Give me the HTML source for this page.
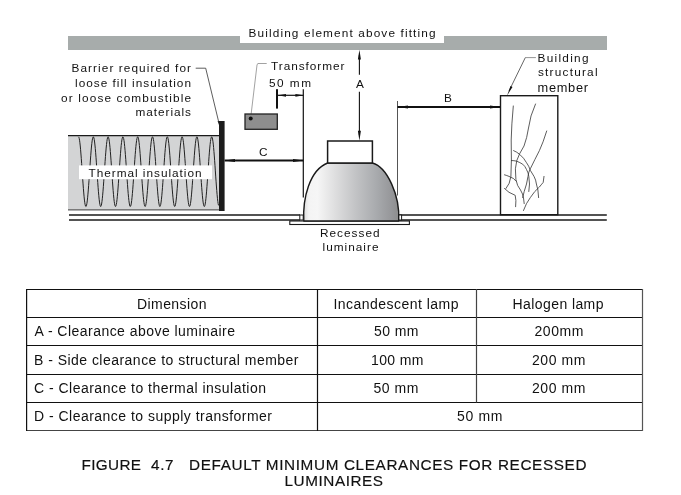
<!DOCTYPE html>
<html><head><meta charset="utf-8"><style>
html,body{margin:0;padding:0;background:#fff;width:681px;height:495px;overflow:hidden}
svg{display:block;will-change:transform}
text{font-family:"Liberation Sans",sans-serif}
</style></head><body>
<svg width="681" height="495" viewBox="0 0 681 495" font-family="Liberation Sans, sans-serif">
<defs>
<linearGradient id="dome" x1="303" x2="399" y1="0" y2="0" gradientUnits="userSpaceOnUse">
<stop offset="0" stop-color="#d9d9d9"/>
<stop offset="0.06" stop-color="#f4f4f4"/>
<stop offset="0.15" stop-color="#f6f6f6"/>
<stop offset="0.35" stop-color="#dcdcdd"/>
<stop offset="0.55" stop-color="#c2c3c5"/>
<stop offset="0.75" stop-color="#aaacaf"/>
<stop offset="0.92" stop-color="#96979a"/>
<stop offset="1" stop-color="#8c8c8c"/>
</linearGradient>
</defs>
<rect width="681" height="495" fill="#fff"/>
<!-- top bar -->
<rect x="68" y="36" width="539" height="14" fill="#a7acab"/>
<rect x="240" y="36" width="204" height="7" fill="#fff"/>
<!-- insulation -->
<rect x="68" y="135.5" width="151" height="75" fill="#d3d4d5"/>
<line x1="68" y1="135.6" x2="219" y2="135.6" stroke="#1a1a1a" stroke-width="1.3"/>
<line x1="68" y1="209.8" x2="219" y2="209.8" stroke="#7a7a7a" stroke-width="1.4"/>
<polyline points="78.50,136.80 78.85,137.18 79.20,138.33 79.55,140.21 79.90,142.78 80.25,145.98 80.60,149.76 80.95,154.01 81.30,158.66 81.65,163.59 82.00,168.69 82.35,173.87 82.70,178.99 83.05,183.95 83.40,188.65 83.75,192.96 84.10,196.81 84.45,200.10 84.80,202.77 85.15,204.75 85.50,206.00 85.85,206.49 86.20,206.22 86.55,205.18 86.90,203.41 87.25,200.93 87.60,197.81 87.95,194.11 88.30,189.92 88.65,185.33 89.00,180.43 89.35,175.34 89.70,170.17 90.05,165.03 90.40,160.04 90.75,155.30 91.10,150.93 91.45,147.01 91.80,143.63 92.15,140.87 92.50,138.79 92.85,137.43 93.20,136.83 93.55,137.00 93.90,137.92 94.25,139.60 94.60,141.97 94.95,145.01 95.30,148.63 95.65,152.75 96.00,157.30 96.35,162.15 96.70,167.22 97.05,172.39 97.40,177.54 97.75,182.56 98.10,187.34 98.45,191.77 98.80,195.76 99.15,199.22 99.50,202.07 99.85,204.26 100.20,205.72 100.55,206.43 100.90,206.37 101.25,205.55 101.60,203.99 101.95,201.71 102.30,198.76 102.65,195.22 103.00,191.17 103.35,186.68 103.70,181.85 104.05,176.81 104.40,171.65 104.75,166.49 105.10,161.45 105.45,156.62 105.80,152.13 106.15,148.08 106.50,144.54 106.85,141.59 107.20,139.31 107.55,137.75 107.90,136.93 108.25,136.87 108.60,137.58 108.95,139.04 109.30,141.23 109.65,144.08 110.00,147.54 110.35,151.53 110.70,155.96 111.05,160.74 111.40,165.76 111.75,170.91 112.10,176.08 112.45,181.15 112.80,186.00 113.15,190.55 113.50,194.67 113.85,198.29 114.20,201.33 114.55,203.70 114.90,205.38 115.25,206.30 115.60,206.47 115.95,205.87 116.30,204.51 116.65,202.43 117.00,199.67 117.35,196.29 117.70,192.37 118.05,188.00 118.40,183.26 118.75,178.27 119.10,173.13 119.45,167.96 119.80,162.87 120.15,157.97 120.50,153.38 120.85,149.19 121.20,145.49 121.55,142.37 121.90,139.89 122.25,138.12 122.60,137.08 122.95,136.81 123.30,137.30 123.65,138.55 124.00,140.53 124.35,143.20 124.70,146.49 125.05,150.34 125.40,154.65 125.75,159.35 126.10,164.31 126.45,169.43 126.80,174.61 127.15,179.71 127.50,184.64 127.85,189.29 128.20,193.54 128.55,197.32 128.90,200.52 129.25,203.09 129.60,204.97 129.95,206.12 130.30,206.50 130.65,206.12 131.00,204.97 131.35,203.09 131.70,200.52 132.05,197.32 132.40,193.54 132.75,189.29 133.10,184.64 133.45,179.71 133.80,174.61 134.15,169.43 134.50,164.31 134.85,159.35 135.20,154.65 135.55,150.34 135.90,146.49 136.25,143.20 136.60,140.53 136.95,138.55 137.30,137.30 137.65,136.81 138.00,137.08 138.35,138.12 138.70,139.89 139.05,142.37 139.40,145.49 139.75,149.19 140.10,153.38 140.45,157.97 140.80,162.87 141.15,167.96 141.50,173.13 141.85,178.27 142.20,183.26 142.55,188.00 142.90,192.37 143.25,196.29 143.60,199.67 143.95,202.43 144.30,204.51 144.65,205.87 145.00,206.47 145.35,206.30 145.70,205.38 146.05,203.70 146.40,201.33 146.75,198.29 147.10,194.67 147.45,190.55 147.80,186.00 148.15,181.15 148.50,176.08 148.85,170.91 149.20,165.76 149.55,160.74 149.90,155.96 150.25,151.53 150.60,147.54 150.95,144.08 151.30,141.23 151.65,139.04 152.00,137.58 152.35,136.87 152.70,136.93 153.05,137.75 153.40,139.31 153.75,141.59 154.10,144.54 154.45,148.08 154.80,152.13 155.15,156.62 155.50,161.45 155.85,166.49 156.20,171.65 156.55,176.81 156.90,181.85 157.25,186.68 157.60,191.17 157.95,195.22 158.30,198.76 158.65,201.71 159.00,203.99 159.35,205.55 159.70,206.37 160.05,206.43 160.40,205.72 160.75,204.26 161.10,202.07 161.45,199.22 161.80,195.76 162.15,191.77 162.50,187.34 162.85,182.56 163.20,177.54 163.55,172.39 163.90,167.22 164.25,162.15 164.60,157.30 164.95,152.75 165.30,148.63 165.65,145.01 166.00,141.97 166.35,139.60 166.70,137.92 167.05,137.00 167.40,136.83 167.75,137.43 168.10,138.79 168.45,140.87 168.80,143.63 169.15,147.01 169.50,150.93 169.85,155.30 170.20,160.04 170.55,165.03 170.90,170.17 171.25,175.34 171.60,180.43 171.95,185.33 172.30,189.92 172.65,194.11 173.00,197.81 173.35,200.93 173.70,203.41 174.05,205.18 174.40,206.22 174.75,206.49 175.10,206.00 175.45,204.75 175.80,202.77 176.15,200.10 176.50,196.81 176.85,192.96 177.20,188.65 177.55,183.95 177.90,178.99 178.25,173.87 178.60,168.69 178.95,163.59 179.30,158.66 179.65,154.01 180.00,149.76 180.35,145.98 180.70,142.78 181.05,140.21 181.40,138.33 181.75,137.18 182.10,136.80 182.45,137.18 182.80,138.33 183.15,140.21 183.50,142.78 183.85,145.98 184.20,149.76 184.55,154.01 184.90,158.66 185.25,163.59 185.60,168.69 185.95,173.87 186.30,178.99 186.65,183.95 187.00,188.65 187.35,192.96 187.70,196.81 188.05,200.10 188.40,202.77 188.75,204.75 189.10,206.00 189.45,206.49 189.80,206.22 190.15,205.18 190.50,203.41 190.85,200.93 191.20,197.81 191.55,194.11 191.90,189.92 192.25,185.33 192.60,180.43 192.95,175.34 193.30,170.17 193.65,165.03 194.00,160.04 194.35,155.30 194.70,150.93 195.05,147.01 195.40,143.63 195.75,140.87 196.10,138.79 196.45,137.43 196.80,136.83 197.15,137.00 197.50,137.92 197.85,139.60 198.20,141.97 198.55,145.01 198.90,148.63 199.25,152.75 199.60,157.30 199.95,162.15 200.30,167.22 200.65,172.39 201.00,177.54 201.35,182.56 201.70,187.34 202.05,191.77 202.40,195.76 202.75,199.22 203.10,202.07 203.45,204.26 203.80,205.72 204.15,206.43 204.50,206.37 204.85,205.55 205.20,203.99 205.55,201.71 205.90,198.76 206.25,195.22 206.60,191.17 206.95,186.68 207.30,181.85 207.65,176.81 208.00,171.65 208.35,166.49 208.70,161.45 209.05,156.62 209.40,152.13 209.75,148.08 210.10,144.54 210.45,141.59 210.80,139.31 211.15,137.75 211.50,136.93 211.85,136.87 212.20,137.58 212.55,139.04 212.90,141.23 213.25,144.08 213.60,147.54 213.95,151.53 214.30,155.96 214.65,160.74 215.00,165.76 215.35,170.91 215.70,176.08 216.05,181.15 216.40,186.00 216.75,190.55 217.10,194.67 217.45,198.29 217.80,201.33 218.15,203.70 218.50,205.38" fill="none" stroke="#222" stroke-width="1.0"/>
<rect x="79" y="165.4" width="133" height="13.8" fill="#fff"/>
<!-- barrier -->
<path d="M217.6 121 L224.6 121 L224.6 211 L219 211 L219 125 Z" fill="#1c1c1c"/>
<polyline points="195.7,68.2 205.7,68.2 218.6,121.5" fill="none" stroke="#333" stroke-width="0.8"/>
<!-- ceiling -->
<g stroke="#1a1a1a" stroke-width="1.7" fill="none">
<line x1="69" y1="215" x2="300" y2="215"/>
<line x1="69" y1="220" x2="300" y2="220"/>
<line x1="399" y1="215" x2="606.8" y2="215"/>
<line x1="399" y1="220" x2="606.8" y2="220"/>
</g>
<rect x="299.8" y="215" width="3.4" height="5" fill="#fff" stroke="#1a1a1a" stroke-width="1"/>
<rect x="398.6" y="215" width="3.0" height="5" fill="#fff" stroke="#1a1a1a" stroke-width="1"/>
<!-- transformer -->
<polyline points="266.7,63.5 257.8,63.5 257,65 250.6,118.5" fill="none" stroke="#8a8a8a" stroke-width="0.8"/>
<rect x="245" y="114" width="32.3" height="15.3" fill="#8e8e8e" stroke="#222" stroke-width="1.3"/>
<circle cx="250.7" cy="118.5" r="2" fill="#111"/>
<!-- 50mm dim -->
<rect x="276" y="89.2" width="2" height="19.4" fill="#111"/>
<line x1="278" y1="95.3" x2="303.4" y2="95.3" stroke="#111" stroke-width="1.2"/>
<path d="M278 95.3 L286 93.9 L286 96.7 Z M303.4 95.3 L295.4 93.9 L295.4 96.7 Z" fill="#111"/>
<line x1="303.3" y1="89.2" x2="303.3" y2="197.5" stroke="#111" stroke-width="1.2"/>
<!-- A -->
<line x1="359.4" y1="55" x2="359.4" y2="74.7" stroke="#111" stroke-width="1.1"/>
<line x1="359.4" y1="91.7" x2="359.4" y2="135" stroke="#111" stroke-width="1.1"/>
<path d="M359.4 49.8 L360.9 59.5 L357.9 59.5 Z M359.4 140.7 L360.9 130.7 L357.9 130.7 Z" fill="#111"/>
<!-- C -->
<line x1="224.6" y1="160.6" x2="303.3" y2="160.6" stroke="#111" stroke-width="2"/>
<path d="M224.6 160.6 L235 159.1 L235 162.1 Z M303.3 160.6 L293 159.1 L293 162.1 Z" fill="#111"/>
<!-- B -->
<line x1="397.5" y1="101" x2="397.5" y2="195.5" stroke="#555" stroke-width="1"/>
<line x1="397.5" y1="107" x2="500.5" y2="107" stroke="#111" stroke-width="1.9"/>
<path d="M397.5 107 L408 105.5 L408 108.5 Z M500.5 107 L490 105.5 L490 108.5 Z" fill="#111"/>
<!-- structural member -->
<rect x="500.5" y="95.7" width="57.3" height="119" fill="#fff" stroke="#1a1a1a" stroke-width="1.4"/>
<g fill="none" stroke="#333" stroke-width="0.8" stroke-linecap="round">
<path d="M513.3 106 Q511.5 125 511.2 140 L511.4 160 L510.9 176.4 Q510 184 506 188.5"/>
<path d="M535.5 104 Q530 116 528.5 128 Q527 138 524 146 L519.7 153.6 Q516 160 515.4 168.8 L515.9 179.4 Q517 186 520.5 190 Q523 194 523.5 198 L524.2 203.6"/>
<path d="M513.6 150.6 Q517 152 519.7 154.4 Q524 158 526.5 162.7 Q529 166 530.3 170.3 L534 176.4 Q536 180 536.4 184 L537.9 190 L538.6 197.6"/>
<path d="M546.7 131 Q543 143 539.4 150.6 L534.8 159.7 L530.3 168.8 Q528.5 172 528 176.4 L526.5 184 L524.2 191.5 L522.7 197.6"/>
<path d="M511.4 160.5 Q514 160.5 516.7 161.2 Q520 162.5 522.7 164.2 Q525 166 526.5 169.5 Q528.5 173 528.8 176.4 L529.5 184 L528.8 191.5"/>
<path d="M544 176.4 L543.2 182.4 Q541 185 539.4 187 L534.8 191.5 L530.3 197.6 L526.5 203.6 L523.5 210.5"/>
<path d="M504.5 174.8 Q507 175.5 509 176.4 L513.6 178.6 L515.9 181"/>
<path d="M504.5 188.5 L509 192.3 L515.2 195.3 L515.9 200.6 L515.6 206.7"/>
</g>
<!-- luminaire -->
<rect x="289.8" y="221" width="119.6" height="3.5" fill="#fff" stroke="#1a1a1a" stroke-width="1.1"/>
<path d="M327.6 163 C309.4 170.1 302.6 198.6 303.8 221 L398.7 221 C400.2 195.4 387 166.9 372.4 163 Z" fill="url(#dome)" stroke="#1a1a1a" stroke-width="1.4" stroke-linejoin="round"/>
<rect x="327.6" y="141" width="44.8" height="22" fill="#fff" stroke="#1a1a1a" stroke-width="1.5"/>
<!-- top leader -->
<polyline points="535.9,57.6 525.3,57.6" fill="none" stroke="#888" stroke-width="0.9"/>
<line x1="525.3" y1="57.6" x2="509" y2="91" stroke="#333" stroke-width="0.75"/>
<path d="M507.1 95.5 L512.5 87 L510.5 86 Z" fill="#111"/>
<!-- table -->
<g stroke="#111" stroke-width="1.2" fill="none">
<line x1="26" y1="289.5" x2="643" y2="289.5"/>
<line x1="26" y1="317.5" x2="643" y2="317.5"/>
<line x1="26" y1="345.5" x2="643" y2="345.5"/>
<line x1="26" y1="374.5" x2="643" y2="374.5"/>
<line x1="26" y1="402.5" x2="643" y2="402.5"/>
<line x1="26" y1="430.5" x2="643" y2="430.5" stroke="#444"/>
<line x1="26.6" y1="289" x2="26.6" y2="431"/>
<line x1="317.5" y1="289" x2="317.5" y2="431"/>
<line x1="476.5" y1="289" x2="476.5" y2="402.5" stroke="#444"/>
<line x1="642.5" y1="289" x2="642.5" y2="431" stroke="#555"/>
</g>
<text x="248.5" y="36.5" font-size="11.8" fill="#111" textLength="187.0" lengthAdjust="spacing">Building element above fitting</text><text x="71.5" y="71.8" font-size="11.8" fill="#111" textLength="119.5" lengthAdjust="spacing">Barrier required for</text><text x="75.0" y="86.5" font-size="11.8" fill="#111" textLength="116.0" lengthAdjust="spacing">loose fill insulation</text><text x="61.0" y="101.6" font-size="11.8" fill="#111" textLength="130.0" lengthAdjust="spacing">or loose combustible</text><text x="135.5" y="116.0" font-size="11.8" fill="#111" textLength="55.5" lengthAdjust="spacing">materials</text><text x="271.0" y="69.6" font-size="11.8" fill="#111" textLength="73.5" lengthAdjust="spacing">Transformer</text><text x="269.0" y="86.6" font-size="11.8" fill="#111" textLength="42.0" lengthAdjust="spacing">50 mm</text><text x="356.0" y="87.7" font-size="11.8" fill="#111">A</text><text x="444.0" y="101.7" font-size="11.8" fill="#111">B</text><text x="259.0" y="155.5" font-size="11.8" fill="#111">C</text><text x="537.5" y="61.6" font-size="11.8" fill="#111" textLength="51.0" lengthAdjust="spacing">Building</text><text x="538.0" y="76.3" font-size="11.8" fill="#111" textLength="59.5" lengthAdjust="spacing">structural</text><text x="537.5" y="91.6" font-size="12.8" fill="#111" textLength="50.5" lengthAdjust="spacing">member</text><text x="88.5" y="176.5" font-size="11.8" fill="#111" textLength="113.0" lengthAdjust="spacing">Thermal insulation</text><text x="320.0" y="236.7" font-size="11.8" fill="#111" textLength="59.5" lengthAdjust="spacing">Recessed</text><text x="322.5" y="251.4" font-size="11.8" fill="#111" textLength="56.0" lengthAdjust="spacing">luminaire</text><text x="137.0" y="308.6" font-size="14" fill="#111" textLength="69.5" lengthAdjust="spacing">Dimension</text><text x="333.5" y="308.7" font-size="14" fill="#111" textLength="125.0" lengthAdjust="spacing">Incandescent lamp</text><text x="512.5" y="308.7" font-size="14" fill="#111" textLength="91.0" lengthAdjust="spacing">Halogen lamp</text><text x="34.5" y="336.4" font-size="14" fill="#111" textLength="200.5" lengthAdjust="spacing">A - Clearance above luminaire</text><text x="374.0" y="336.4" font-size="14" fill="#111" textLength="44.5" lengthAdjust="spacing">50 mm</text><text x="534.5" y="336.4" font-size="14" fill="#111" textLength="49.0" lengthAdjust="spacing">200mm</text><text x="34.0" y="364.7" font-size="14" fill="#111" textLength="264.5" lengthAdjust="spacing">B - Side clearance to structural member</text><text x="371.0" y="364.7" font-size="14" fill="#111" textLength="52.5" lengthAdjust="spacing">100 mm</text><text x="532.0" y="364.7" font-size="14" fill="#111" textLength="53.5" lengthAdjust="spacing">200 mm</text><text x="34.0" y="392.7" font-size="14" fill="#111" textLength="232.0" lengthAdjust="spacing">C - Clearance to thermal insulation</text><text x="373.5" y="392.7" font-size="14" fill="#111" textLength="45.0" lengthAdjust="spacing">50 mm</text><text x="532.0" y="392.7" font-size="14" fill="#111" textLength="53.5" lengthAdjust="spacing">200 mm</text><text x="34.0" y="421.3" font-size="14" fill="#111" textLength="238.0" lengthAdjust="spacing">D - Clearance to supply transformer</text><text x="457.0" y="421.3" font-size="14" fill="#111" textLength="45.5" lengthAdjust="spacing">50 mm</text><text x="81.5" y="470.0" font-size="15.3" fill="#111" stroke="#000" stroke-width="0.15" textLength="59.5" lengthAdjust="spacing">FIGURE</text><text x="151.0" y="470.0" font-size="15.3" fill="#111" stroke="#000" stroke-width="0.15" textLength="22.5" lengthAdjust="spacing">4.7</text><text x="189.0" y="470.0" font-size="15.3" fill="#111" stroke="#000" stroke-width="0.15" textLength="397.5" lengthAdjust="spacing">DEFAULT MINIMUM CLEARANCES FOR RECESSED</text><text x="284.5" y="486.0" font-size="15.3" fill="#111" stroke="#000" stroke-width="0.15" textLength="98.5" lengthAdjust="spacing">LUMINAIRES</text>
</svg>
</body></html>
